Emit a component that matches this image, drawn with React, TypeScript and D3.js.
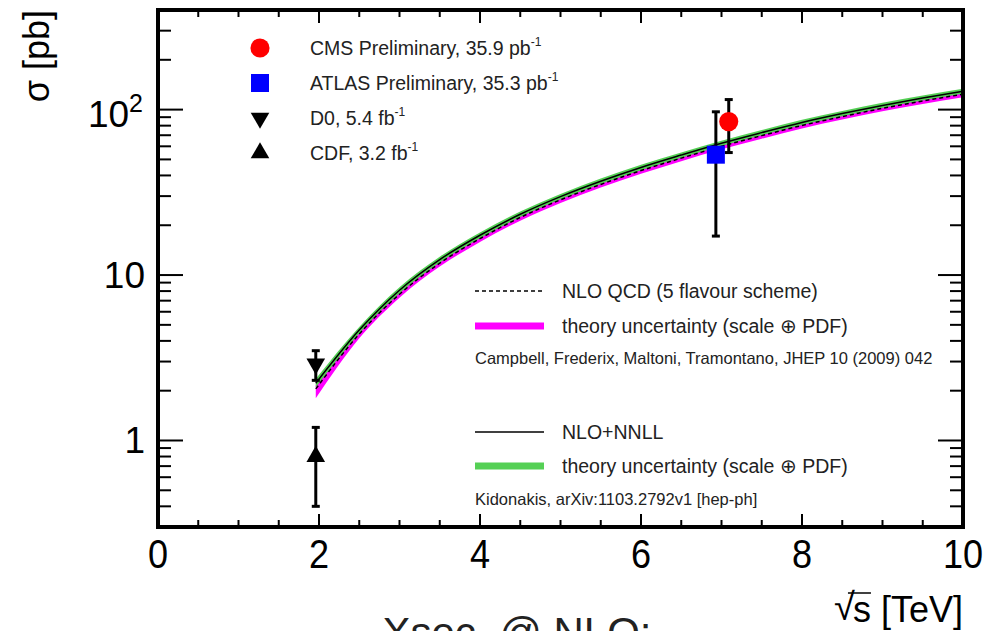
import * as d3 from 'd3';
import React, { useEffect, useRef } from 'react';

// theory curves, sqrt(s) in TeV, sigma in pb
const sqrtS = [1.96, 2.5, 3, 3.5, 4, 4.5, 5, 5.5, 6, 6.5, 7, 7.5, 8, 8.5, 9, 9.5, 10];
const nnll = [2.22, 4.65, 8.1, 12.4, 17.4, 23.3, 29.8, 36.9, 44.7, 53.1, 62.6, 72.6, 83.6, 94.6, 106, 117.5, 129];
const nnllLow = [2.1, 4.44, 7.75, 11.9, 16.7, 22.4, 28.7, 35.5, 43.0, 51.1, 60.3, 70.0, 80.6, 91.2, 102.3, 113.4, 124.5];
const nnllHigh = [2.36, 4.86, 8.45, 12.9, 18.1, 24.2, 30.9, 38.3, 46.4, 55.1, 64.9, 75.3, 86.7, 98.1, 110, 121.9, 133.8];
const nlo = [2.05, 4.4, 7.66, 11.8, 16.6, 22.3, 28.5, 35.3, 42.8, 50.9, 60.0, 69.6, 80.2, 90.7, 101.8, 112.8, 123.8];
const nloLow = [1.8, 4.15, 7.3, 11.25, 15.85, 21.3, 27.3, 33.8, 41.0, 48.8, 57.5, 66.7, 76.9, 87.0, 97.6, 108.2, 118.6];
const nloHigh = [2.17, 4.6, 7.99, 12.27, 17.26, 23.2, 29.6, 36.7, 44.5, 52.9, 62.4, 72.4, 83.4, 94.3, 105.9, 117.3, 128.8];

// measurements
const measEnergy = [7.09, 6.93, 1.96, 1.96];
const measValue = [84.6, 53.4, 2.9, 0.8];
const measLow = [55, 17.2, 2.31, 0.4];
const measHigh = [115, 97, 3.49, 1.2];
const measSymbol = ['circle', 'square', 'triangleDown', 'triangleUp'];
const measColor = ['#ff0000', '#0000ff', '#000000', '#000000'];
const measLabel = ['CMS Preliminary, 35.9 pb', 'ATLAS Preliminary, 35.3 pb', 'D0, 5.4 fb', 'CDF, 3.2 fb'];

const theoryLabels = ['NLO QCD (5 flavour scheme)', 'theory uncertainty (scale \u2295 PDF)', 'NLO+NNLL', 'theory uncertainty (scale \u2295 PDF)'];
const refLabels = ['Campbell, Frederix, Maltoni, Tramontano, JHEP 10 (2009) 042', 'Kidonakis, arXiv:1103.2792v1 [hep-ph]'];

const xMajor = [0, 2, 4, 6, 8, 10];
const yMajor = [1, 10, 100];

const width = 1001;
const height = 631;
const margin = { top: 10, right: 38, bottom: 104, left: 158 };
const font = 'Liberation Sans, Arial, Helvetica, sans-serif';

const symbolPath = (s: string, size: number) => {
  if (s === 'circle') return d3.symbol().type(d3.symbolCircle).size(size * 0.87)();
  if (s === 'square') return d3.symbol().type(d3.symbolSquare).size(size)();
  return d3.symbol().type(d3.symbolTriangle).size(size * 0.5)();
};

const App: React.FC = () => {
  const ref = useRef<SVGSVGElement>(null);
  useEffect(() => {
    const svg = d3.select(ref.current);
    svg.selectAll('*').remove();
    const x = d3.scaleLinear().domain([0, 10]).range([margin.left, width - margin.right]);
    const y = d3.scaleLog().domain([0.3, 400]).range([height - margin.bottom, margin.top]);
    const x0 = margin.left, x1 = width - margin.right, y0 = height - margin.bottom, y1 = margin.top;
    const idx = d3.range(sqrtS.length);

    // bands
    const band = (lo: number[], hi: number[]) =>
      d3.area<number>().x((i) => x(sqrtS[i])).y0((i) => y(lo[i])).y1((i) => y(hi[i])).curve(d3.curveMonotoneX);
    const line = (v: number[]) => d3.line<number>().x((i) => x(sqrtS[i])).y((i) => y(v[i])).curve(d3.curveMonotoneX);
    svg.append('path').datum(idx).attr('fill', '#ff00ff').attr('d', band(nloLow, nloHigh));
    svg.append('path').datum(idx).attr('fill', '#55d055').attr('d', band(nnllLow, nnllHigh));
    svg.append('path').datum(idx).attr('fill', 'none').attr('stroke', '#000').attr('stroke-width', 1.5)
      .attr('stroke-dasharray', '4,3').attr('d', line(nlo));
    svg.append('path').datum(idx).attr('fill', 'none').attr('stroke', '#000').attr('stroke-width', 1.5).attr('d', line(nnll));

    // error bars + markers
    measEnergy.forEach((e, i) => {
      const g = svg.append('g');
      g.append('line').attr('x1', x(e)).attr('x2', x(e)).attr('y1', y(measLow[i])).attr('y2', y(measHigh[i]))
        .attr('stroke', '#000').attr('stroke-width', 3);
      [measLow[i], measHigh[i]].forEach((v) =>
        g.append('line').attr('x1', x(e) - 4).attr('x2', x(e) + 4).attr('y1', y(v)).attr('y2', y(v))
          .attr('stroke', '#000').attr('stroke-width', 3)
      );
      const size = measSymbol[i] === 'circle' ? 330 : measSymbol[i] === 'square' ? 324 : 300;
      g.append('path').attr('d', symbolPath(measSymbol[i], size)).attr('fill', measColor[i])
        .attr('transform', `translate(${x(e)},${y(measValue[i])})${measSymbol[i] === 'triangleDown' ? ' rotate(180)' : ''}`);
    });

    // frame + ticks
    svg.append('rect').attr('x', x0).attr('y', y1).attr('width', x1 - x0).attr('height', y0 - y1)
      .attr('fill', 'none').attr('stroke', '#000').attr('stroke-width', 4);
    const tk = svg.append('g').attr('stroke', '#000').attr('stroke-width', 2);
    d3.range(0, 10.01, 0.5).forEach((v) => {
      const len = xMajor.includes(v) ? 13 : 7;
      tk.append('line').attr('x1', x(v)).attr('x2', x(v)).attr('y1', y0).attr('y2', y0 - len);
      tk.append('line').attr('x1', x(v)).attr('x2', x(v)).attr('y1', y1).attr('y2', y1 + len);
    });
    const yTicks: number[] = [];
    [0.1, 1, 10, 100].forEach((d) => d3.range(1, 10).forEach((m) => {
      const v = d * m;
      if (v >= 0.3 && v <= 400) yTicks.push(v);
    }));
    yTicks.forEach((v) => {
      const len = yMajor.some((m) => Math.abs(m - v) < 1e-9) ? 25 : 13;
      tk.append('line').attr('x1', x0).attr('x2', x0 + len).attr('y1', y(v)).attr('y2', y(v));
      tk.append('line').attr('x1', x1).attr('x2', x1 - len).attr('y1', y(v)).attr('y2', y(v));
    });

    // tick labels
    xMajor.forEach((v) => {
      svg.append('text').attr('transform', `translate(${x(v)},${y0 + 41}) scale(0.88,1)`)
        .attr('text-anchor', 'middle').attr('font-family', font).attr('font-size', 41).text(v);
    });
    yMajor.forEach((v) => {
      const t = svg.append('text').attr('x', x0 - 13).attr('y', y(v) + 13).attr('text-anchor', 'end')
        .attr('font-family', font).attr('font-size', 37);
      if (v === 100) {
        t.attr('x', x0 - 15).attr('y', y(v) + 17);
        t.append('tspan').text('10');
        t.append('tspan').attr('font-size', 25).attr('dy', -15).text('2');
      } else t.text(v);
    });

    // axis titles
    svg.append('text').attr('transform', `translate(49,${y1}) rotate(-90)`).attr('text-anchor', 'end')
      .attr('font-family', font).attr('font-size', 36).text('\u03c3 [pb]');
    const xt = svg.append('text').attr('x', x1).attr('y', 622).attr('text-anchor', 'end')
      .attr('font-family', font).attr('font-size', 36).text('s [TeV]');
    const bb = (xt.node() as SVGTextElement).getBBox();
    svg.append('text').attr('x', bb.x + 2).attr('y', 620).attr('text-anchor', 'end')
      .attr('font-family', font).attr('font-size', 38).text('\u221a');
    svg.append('line').attr('x1', bb.x - 5).attr('x2', bb.x + 18).attr('y1', 593).attr('y2', 593)
      .attr('stroke', '#000').attr('stroke-width', 1.5);

    // legend: measurements
    const lg = svg.append('g').attr('font-family', font).attr('font-size', 19.5).attr('fill', '#222');
    measLabel.forEach((lab, i) => {
      const ry = 48 + i * 35;
      const size = measSymbol[i] === 'circle' ? 330 : measSymbol[i] === 'square' ? 324 : 300;
      lg.append('path').attr('d', symbolPath(measSymbol[i], size)).attr('fill', measColor[i])
        .attr('transform', `translate(260,${ry})${measSymbol[i] === 'triangleDown' ? ' rotate(180)' : ''}`);
      const t = lg.append('text').attr('x', 310).attr('y', ry + 7);
      t.append('tspan').text(lab);
      t.append('tspan').attr('font-size', 12).attr('dy', -9).text('-1');
    });

    // legend: theory
    const th = svg.append('g').attr('font-family', font).attr('fill', '#222');
    const rows = [291, 326, 432, 466];
    const styles = [
      { stroke: '#000', w: 1.5, dash: '4,3' },
      { stroke: '#ff00ff', w: 7, dash: null },
      { stroke: '#000', w: 1.5, dash: null },
      { stroke: '#55d055', w: 7, dash: null },
    ];
    theoryLabels.forEach((lab, i) => {
      th.append('line').attr('x1', 475).attr('x2', 544).attr('y1', rows[i]).attr('y2', rows[i])
        .attr('stroke', styles[i].stroke).attr('stroke-width', styles[i].w).attr('stroke-dasharray', styles[i].dash);
      th.append('text').attr('x', 562).attr('y', rows[i] + 7).attr('font-size', 19.5).text(lab);
    });
    refLabels.forEach((lab, i) => {
      th.append('text').attr('x', 475).attr('y', [364, 505][i]).attr('font-size', 16.5).text(lab);
    });

    // caption, cut off at the bottom edge as in the source image
    svg.append('text').attr('x', 517).attr('y', 647).attr('text-anchor', 'middle')
      .attr('font-family', font).attr('font-size', 42).attr('fill', '#222').text('Xsec. @ NLO:');
  }, []);
  return (
    <svg ref={ref} width={width} height={height} style={{ position: 'absolute', left: 0, top: 0, background: '#fff' }}></svg>
  );
};

export default App;
